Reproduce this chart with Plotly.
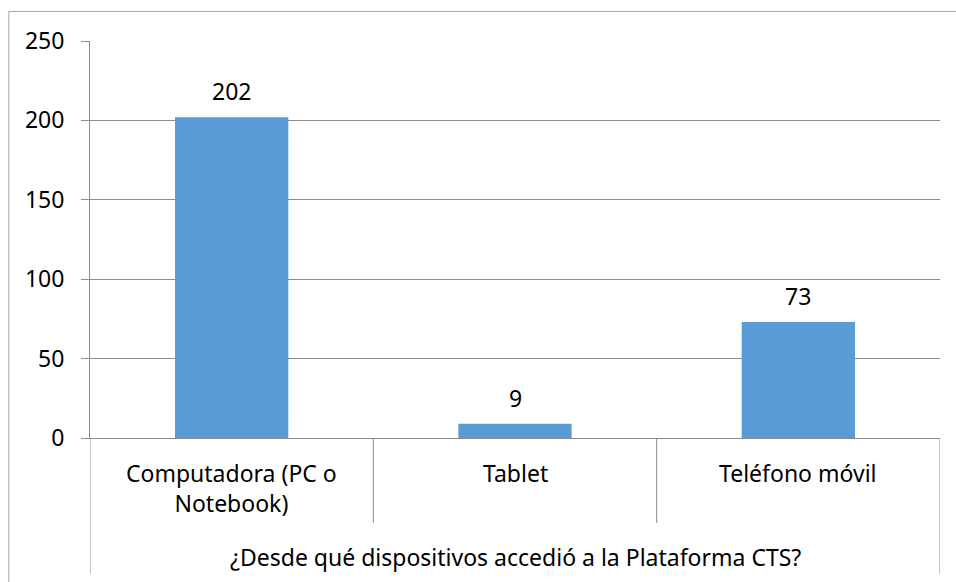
import plotly.graph_objects as go

categories = ["Computadora (PC o<br>Notebook)", "Tablet", "Teléfono móvil"]
values = [202, 9, 73]
axis_title = "¿Desde qué dispositivos accedió a la Plataforma CTS?"
y_ticks = [0, 50, 100, 150, 200, 250]

FONT = "Noto Sans"
FS = 23
GRID = "#8c8c8c"
BAR = "#5b9bd5"

idx = list(range(len(categories)))

fig = go.Figure(
    go.Bar(
        x=idx,
        y=values,
        width=0.4,
        marker={"color": BAR, "line": {"width": 0}},
        hoverinfo="skip",
    )
)

# value labels above the bars
for i, v in zip(idx, values):
    fig.add_annotation(
        x=i, y=v, text=str(v), showarrow=False,
        yanchor="middle", yshift=26,
        font={"family": FONT, "size": FS, "color": "#000000"},
    )

# category labels under the axis
cat_y = [-0.126, -0.088, -0.088]
for i, label, yy in zip(idx, categories, cat_y):
    fig.add_annotation(
        x=i, y=yy, yref="paper", text=label, showarrow=False,
        yanchor="middle", align="center",
        font={"family": FONT, "size": FS, "color": "#000000"},
    )

fig.add_annotation(
    x=0.5, xref="paper", y=-0.3, yref="paper", text=axis_title,
    showarrow=False, yanchor="middle",
    font={"family": FONT, "size": FS, "color": "#000000"},
)

# category separators (Excel-style multilevel axis)
line = {"color": GRID, "width": 1}
for b in [0.5, 1.5]:
    fig.add_shape(type="line", xref="x", yref="paper",
                  x0=b, x1=b, y0=0, y1=-0.214, line=line)
for b in [-0.5, 2.5]:
    fig.add_shape(type="line", xref="x", yref="paper",
                  x0=b, x1=b, y0=0, y1=-0.342, line=line)

# chart outer border: only the top and left edges are in view
border = {"color": "#a6a6a6", "width": 1}
fig.add_shape(type="line", xref="paper", yref="paper",
              x0=-0.0955, x1=1.2, y0=1.0745, y1=1.0745, line=border)
fig.add_shape(type="line", xref="paper", yref="paper",
              x0=-0.0955, x1=-0.0955, y0=1.0745, y1=-0.6, line=border)

fig.update_layout(
    width=956,
    height=582,
    margin={"l": 90, "r": 16, "t": 41, "b": 144},
    plot_bgcolor="white",
    paper_bgcolor="white",
    showlegend=False,
    font={"family": FONT, "size": FS, "color": "#000000"},
    xaxis={
        "range": [-0.5, 2.5],
        "showticklabels": False,
        "showgrid": False,
        "zeroline": False,
        "showline": True,
        "linecolor": GRID,
        "ticks": "",
        "mirror": False,
    },
    yaxis={
        "range": [0, 250],
        "tickvals": y_ticks,
        "showgrid": True,
        "gridcolor": GRID,
        "gridwidth": 1,
        "zeroline": False,
        "showline": True,
        "linecolor": GRID,
        "ticks": "outside",
        "ticklen": 8,
        "tickcolor": GRID,
        "ticklabelstandoff": 12,
        "tickfont": {"family": FONT, "size": FS, "color": "#000000"},
    },
)

fig.write_html(
    "out.html",
    config={"displayModeBar": False},
    post_script="document.body.style.margin='0';document.body.style.overflow='hidden';",
)
